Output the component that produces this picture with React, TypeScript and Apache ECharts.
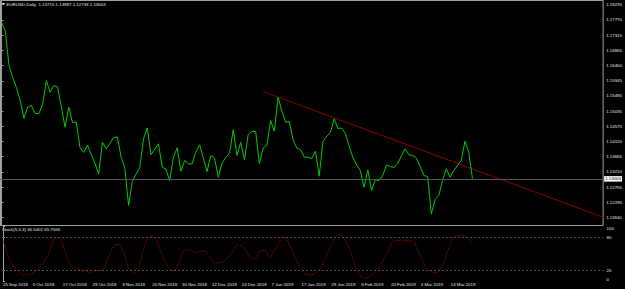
import React, { useEffect, useRef } from "react";
import * as echarts from "echarts";

// ---- data ----
const SYMBOL_TEXT = "EURUSD,Daily  1.13715 1.13987 1.12733 1.13003";
const STOCH_TEXT = "Stoch(5,3,3) 46.5402 65.7566";
const LAST_PRICE = 1.13003;

// daily closes, one per bar, starting 25 Sep 2018
const PRICES = [
  1.17704, 1.17454, 1.16404, 1.16043, 1.15743, 1.15353, 1.14821, 1.15158, 1.15203, 1.14963,
  1.14963, 1.15233, 1.15953, 1.15602, 1.15803, 1.15758, 1.15173, 1.14551, 1.15152, 1.14692,
  1.14701, 1.13942, 1.13792, 1.14017, 1.13732, 1.13461, 1.13152, 1.14101, 1.13903, 1.14062,
  1.14242, 1.14257, 1.13657, 1.13326, 1.122, 1.12921, 1.13146, 1.13341, 1.14203, 1.14527,
  1.13723, 1.13891, 1.14053, 1.1335, 1.1329, 1.12951, 1.13651, 1.13933, 1.1323, 1.13551,
  1.13452, 1.13452, 1.13807, 1.14023, 1.13627, 1.13221, 1.13702, 1.13627, 1.1305, 1.1347,
  1.13642, 1.13771, 1.14473, 1.13702, 1.14101, 1.13572, 1.14332, 1.14431, 1.14422, 1.13452,
  1.13933, 1.14002, 1.14752, 1.14431, 1.15452, 1.15038, 1.14701, 1.14722, 1.14182, 1.13927,
  1.13882, 1.13651, 1.13651, 1.13612, 1.13831, 1.1308, 1.14122, 1.14278, 1.14392, 1.14803,
  1.14512, 1.14527, 1.14362, 1.13987, 1.13642, 1.13416, 1.13251, 1.1275, 1.13272, 1.12651,
  1.12972, 1.12951, 1.13101, 1.13422, 1.13371, 1.13341, 1.13446, 1.13702, 1.13903, 1.13723,
  1.13702, 1.13627, 1.13371, 1.13101, 1.13071, 1.11951, 1.12381, 1.12501, 1.12951, 1.13302,
  1.1305, 1.13251, 1.13401, 1.13551, 1.14131, 1.13801, 1.13003,
];

// trend line anchors [bar, price]
const TREND_BARS = [70, 161];
const TREND_PRICES = [1.1562, 1.1185];

// stochastic signal line, read at these bar positions
const STOCH_BARS = [
  0, 1.5, 3.7, 6, 7.8, 10, 12.2, 14.4, 15.3, 17.1, 18.9, 21.6, 23.3, 25.1, 26.5, 28.3, 29.6, 30.9,
  32.3, 33.6, 35.4, 36.7, 38, 39.8, 40.9, 42.5, 44.3, 45.6, 47, 48.7, 50.1, 51.4, 52.8, 54.1, 55.4,
  57.2, 59, 61.2, 63, 64.4, 66.1, 67.5, 68.8, 70.1, 71.5, 72.8, 74.6, 75.5, 76.8, 78.6, 80.4, 82.2,
  84, 85.3, 86.6, 88.4, 90.2, 91.5, 93.3, 95.1, 96.9, 98.7, 100.9, 103.1, 104.9, 106.7, 108.5,
  109.8, 111.1, 112.9, 114.7, 116, 117.8, 119.6, 121.4, 123.2, 124.5, 125.8,
];
const STOCH_VALUES = [
  74, 44, 20, 11, 14, 26, 50, 79, 77, 44, 23, 20, 16, 19, 20, 44, 62, 67,
  53, 26, 14, 32, 65, 81, 77, 50, 26, 19, 32, 56, 57, 52, 53, 54, 44,
  33, 35, 50, 66, 61, 44, 40, 53, 56, 44, 56, 77, 79, 65, 38, 17, 11,
  15, 27, 44, 71, 85, 77, 50, 17, 5, 11, 26, 53, 73, 74, 73,
  73, 56, 32, 17, 15, 29, 62, 82, 83, 79, 68,
];
const STOCH_LEVELS = [20, 80];

const PRICE_TICKS = [
  1.1184, 1.12295, 1.12755, 1.1321, 1.13665, 1.1412, 1.14575, 1.15035, 1.1549, 1.15945, 1.164,
  1.16855, 1.17315, 1.1777, 1.18235,
];
const SUB_TICKS = [0, 20, 80, 100];
const DATE_BARS = [0, 8, 16, 24, 32, 40, 48, 56, 64, 72, 80, 88, 96, 104, 112, 120];
const DATE_LABELS = [
  "25 Sep 2018", "5 Oct 2018", "17 Oct 2018", "29 Oct 2018", "8 Nov 2018", "20 Nov 2018",
  "30 Nov 2018", "12 Dec 2018", "24 Dec 2018", "7 Jan 2019", "17 Jan 2019", "29 Jan 2019",
  "8 Feb 2019", "20 Feb 2019", "4 Mar 2019", "14 Mar 2019",
];

// ---- layout ----
const X_MIN = -0.267;
const X_MAX = 160.96;
const Y_MIN = 1.116;
const Y_MAX = 1.18355;
const FONT = "Liberation Sans";
const FS = 4.4;
const TXT = "#e6e6e6";
const FRAME = "#a0a0a0";

export default function App() {
  const ref = useRef<HTMLDivElement>(null);
  useEffect(() => {
    if (!ref.current) return;
    const chart = echarts.init(ref.current, undefined, { renderer: "svg" });
    const labelBase = { color: TXT, fontSize: FS, fontFamily: FONT };
    chart.setOption({
      animation: false,
      backgroundColor: "#000000",
      grid: [
        { left: 0.5, top: 0.5, width: 603, height: 225, show: true, borderColor: FRAME, borderWidth: 1 },
        { left: 0.5, top: 226, width: 603, height: 55 },
      ],
      xAxis: [
        { type: "value", gridIndex: 0, min: X_MIN, max: X_MAX, show: false },
        {
          type: "value",
          gridIndex: 1,
          min: X_MIN,
          max: X_MAX,
          axisLine: { show: false },
          axisTick: { show: false },
          splitLine: { show: false },
          axisLabel: {
            ...labelBase,
            customValues: DATE_BARS,
            formatter: (v: number) => DATE_LABELS[DATE_BARS.indexOf(Math.round(v))] ?? "",
            align: "left",
            margin: 1.5,
          },
        },
      ],
      yAxis: [
        {
          type: "value",
          gridIndex: 0,
          position: "right",
          min: Y_MIN,
          max: Y_MAX,
          axisLine: { show: true, lineStyle: { color: FRAME, width: 1 } },
          axisTick: { show: true, customValues: PRICE_TICKS, length: 2, lineStyle: { color: FRAME } },
          splitLine: { show: false },
          axisLabel: {
            ...labelBase,
            customValues: PRICE_TICKS,
            formatter: (v: number) => v.toFixed(5),
            margin: 3,
          },
        },
        {
          type: "value",
          gridIndex: 1,
          position: "right",
          min: 0,
          max: 100,
          axisLine: { show: true, lineStyle: { color: FRAME, width: 1 } },
          axisTick: { show: true, customValues: SUB_TICKS, length: 2, lineStyle: { color: FRAME } },
          splitLine: { show: false },
          axisLabel: {
            ...labelBase,
            customValues: SUB_TICKS,
            formatter: (v: number) => String(Math.round(v)),
            margin: 3,
            verticalAlignMinLabel: "bottom",
            verticalAlignMaxLabel: "top",
          },
        },
      ],
      series: [
        {
          type: "line",
          xAxisIndex: 0,
          yAxisIndex: 0,
          data: TREND_BARS.map((b, i) => [b, TREND_PRICES[i]]),
          showSymbol: false,
          lineStyle: { color: "#8a0000", width: 1 },
          z: 2,
          markLine: {
            silent: true,
            symbol: ["none", "none"],
            data: [{ yAxis: LAST_PRICE }],
            lineStyle: { color: "#4e535c", type: "solid", width: 1 },
            emphasis: { disabled: true },
            label: {
              show: true,
              position: "end",
              distance: 1,
              formatter: LAST_PRICE.toFixed(5),
              backgroundColor: "#ffffff",
              color: "#000000",
              fontSize: FS,
              fontFamily: FONT,
              padding: [1, 1, 0.5, 1],
            },
          },
        },
        {
          type: "line",
          xAxisIndex: 0,
          yAxisIndex: 0,
          data: PRICES.map((p, i) => [i, p]),
          showSymbol: false,
          lineStyle: { color: "#00cc00", width: 1 },
          z: 3,
        },
        {
          type: "line",
          xAxisIndex: 1,
          yAxisIndex: 1,
          data: STOCH_BARS.map((b, i) => [b, STOCH_VALUES[i]]),
          showSymbol: false,
          smooth: 0.4,
          lineStyle: { color: "#8c0000", width: 1, type: [1.5, 1] },
          markLine: {
            silent: true,
            symbol: ["none", "none"],
            data: STOCH_LEVELS.map((v) => ({ yAxis: v })),
            lineStyle: { color: "#505050", type: [2, 2], width: 1 },
            emphasis: { disabled: true },
            label: { show: false },
          },
        },
      ],
      graphic: [
        {
          type: "polygon",
          shape: { points: [[2, 3], [5, 3], [3.5, 5]] },
          style: { fill: "#ffffff" },
        },
        {
          type: "text",
          x: 6.5,
          y: 4.5,
          style: { text: SYMBOL_TEXT, fill: TXT, fontSize: FS, fontFamily: FONT, verticalAlign: "middle" },
        },
        {
          type: "text",
          x: 2,
          y: 229.5,
          style: { text: STOCH_TEXT, fill: TXT, fontSize: FS, fontFamily: FONT, verticalAlign: "middle" },
        },
      ],
    });
    return () => chart.dispose();
  }, []);
  return (
    <div
      ref={ref}
      style={{ position: "fixed", left: 0, top: 0, width: 625, height: 289, background: "#000" }}
    />
  );
}
